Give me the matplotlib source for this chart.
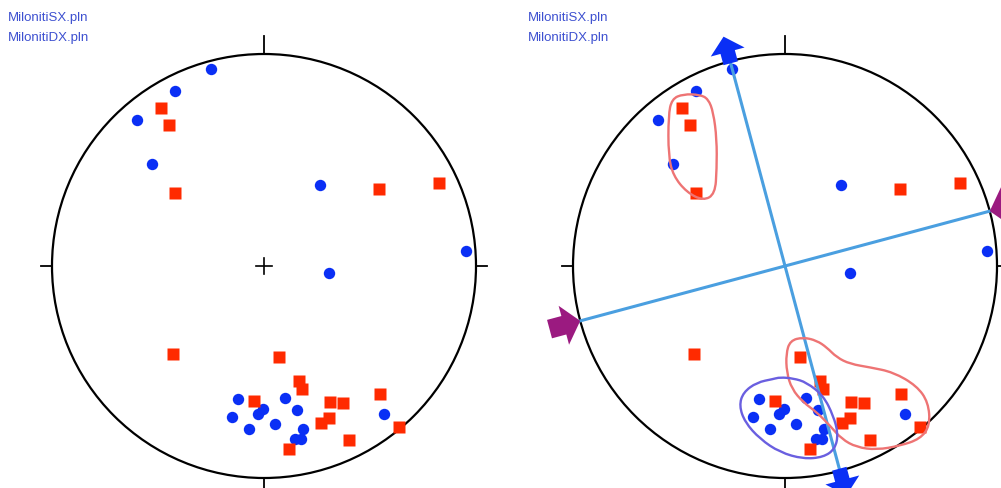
import numpy as np
import matplotlib
matplotlib.use('Agg')
import matplotlib.pyplot as plt
from matplotlib.path import Path
from matplotlib.patches import PathPatch, FancyArrow, Circle

plt.rcParams['font.family'] = ['Liberation Sans', 'DejaVu Sans']

sx_x = [-0.248, -0.422, -0.600, -0.528, 0.263, 0.951, 0.307, -0.122, 0.100, -0.150,
        -0.003, -0.027, 0.158, -0.070, 0.054, 0.182, 0.147, 0.174, 0.568]
sx_y = [0.929, 0.826, 0.687, 0.481, 0.384, 0.070, -0.032, -0.628, -0.623, -0.714,
        -0.676, -0.699, -0.677, -0.767, -0.747, -0.769, -0.815, -0.815, -0.699]

dx_x = [-0.484, -0.448, -0.419, 0.544, 0.826, -0.427, 0.071, 0.165, 0.179, -0.049,
        0.313, 0.373, 0.549, 0.305, 0.269, 0.638, 0.403, 0.116]
dx_y = [0.747, 0.663, 0.342, 0.362, 0.391, -0.416, -0.427, -0.543, -0.581, -0.638,
        -0.641, -0.647, -0.606, -0.715, -0.739, -0.758, -0.823, -0.862]

labels = ['MilonitiSX.pln', 'MilonitiDX.pln']

# axes of the interpretation (azimuth, degrees clockwise from N)
extension_az = 345
compression_az = 75

# hand-drawn groupings on the right net
nw_group = [(-0.480, 0.811), (-0.534, 0.788), (-0.550, 0.709), (-0.550, 0.520),
            (-0.527, 0.426), (-0.464, 0.348), (-0.385, 0.308), (-0.330, 0.340),
            (-0.322, 0.458), (-0.322, 0.599), (-0.338, 0.725), (-0.362, 0.788),
            (-0.401, 0.808)]
se_group = [(0.086, -0.336), (0.024, -0.352), (0.005, -0.415), (0.008, -0.501),
            (0.032, -0.580), (0.086, -0.643), (0.150, -0.690), (0.212, -0.753),
            (0.267, -0.816), (0.338, -0.855), (0.433, -0.867), (0.542, -0.848),
            (0.637, -0.816), (0.684, -0.753), (0.676, -0.643), (0.621, -0.565),
            (0.511, -0.501), (0.401, -0.478), (0.307, -0.462), (0.244, -0.431),
            (0.197, -0.384), (0.150, -0.352)]
s_group = [(-0.055, -0.533), (-0.133, -0.549), (-0.197, -0.596), (-0.216, -0.659),
           (-0.189, -0.737), (-0.118, -0.816), (-0.024, -0.879), (0.086, -0.910),
           (0.181, -0.902), (0.236, -0.863), (0.251, -0.792), (0.228, -0.706),
           (0.181, -0.612), (0.102, -0.549), (0.039, -0.530), (-0.024, -0.525)]

W, H = 1001, 489
R = 212          # radius in pixels
HALF = 1.2       # half axes size in data units


def unit(az):
    a = np.deg2rad(az)
    return np.sin(a), np.cos(a)


def smooth_loop(pts):
    p = np.array(pts)
    m = (p + np.roll(p, -1, axis=0)) / 2
    verts = [m[-1]]
    codes = [Path.MOVETO]
    for i in range(len(p)):
        verts += [p[i], m[i]]
        codes += [Path.CURVE3, Path.CURVE3]
    return Path(verts, codes)


def make_ax(fig, cx, cy):
    s = HALF * R
    ax = fig.add_axes([(cx - s) / W, (H - cy - s) / H, 2 * s / W, 2 * s / H])
    ax.set_xlim(-HALF, HALF)
    ax.set_ylim(-HALF, HALF)
    ax.set_aspect('equal')
    ax.axis('off')
    return ax


def draw_net(ax):
    ax.add_patch(Circle((0, 0), 1, fill=False, ec='black', lw=1.6, zorder=2))
    ax.plot([0, 0], [1, 1.083], color='black', lw=1.3)
    ax.plot([0, 0], [-1, -1.06], color='black', lw=1.3, clip_on=False)
    ax.plot([1, 1.05], [0, 0], color='black', lw=1.3, clip_on=False)
    ax.plot([-1, -1.05], [0, 0], color='black', lw=1.3)
    ax.plot(sx_x, sx_y, 'o', color='#0a2ff5', ms=8.2, mec='none', zorder=3)
    ax.plot(dx_x, dx_y, 's', color='#ff2a00', ms=8.6, mec='none', zorder=3)


fig = plt.figure(figsize=(W / 100, H / 100), dpi=100)

ax1 = make_ax(fig, 264, 267)
draw_net(ax1)
ax1.plot([-0.038, 0.038], [0, 0], color='black', lw=1.2)
ax1.plot([0, 0], [-0.038, 0.038], color='black', lw=1.2)

ax2 = make_ax(fig, 785, 267)
draw_net(ax2)

ex, ey = unit(extension_az)
cx_, cy_ = unit(compression_az)
ax2.plot([-ex, ex], [-ey, ey], color='#4a9fe0', lw=2.2, zorder=4)
ax2.plot([-cx_, cx_], [-cy_, cy_], color='#4a9fe0', lw=2.2, zorder=4)

# extension: blue arrows pointing out
for sgn in (1, -1):
    ux, uy = sgn * ex, sgn * ey
    ax2.add_patch(FancyArrow(ux * 0.99, uy * 0.99, ux * 0.13, uy * 0.13,
                             width=0.07, head_width=0.165, head_length=0.075,
                             length_includes_head=True, color='#0a2ff5',
                             lw=0, zorder=5, clip_on=False))
# compression: purple arrows pointing in
for sgn in (1, -1):
    ux, uy = sgn * cx_, sgn * cy_
    ax2.add_patch(FancyArrow(ux * 1.15, uy * 1.15, -ux * 0.15, -uy * 0.15,
                             width=0.09, head_width=0.19, head_length=0.08,
                             length_includes_head=True, color='#9b1a80',
                             lw=0, zorder=5, clip_on=False))

ax2.add_patch(PathPatch(smooth_loop(nw_group), fill=False, ec='#ee7474', lw=1.7, zorder=6))
ax2.add_patch(PathPatch(smooth_loop(se_group), fill=False, ec='#ee7474', lw=1.7, zorder=6))
ax2.add_patch(PathPatch(smooth_loop(s_group), fill=False, ec='#6a5fe0', lw=1.7, zorder=6))

for x0 in (8, 528):
    for i, lab in enumerate(labels):
        fig.text(x0 / W, 1 - (18 + 19.5 * i) / H, lab, color='#3d50d0',
                 fontsize=9.5, va='center', ha='left')

fig.savefig('out.png', dpi=100)
